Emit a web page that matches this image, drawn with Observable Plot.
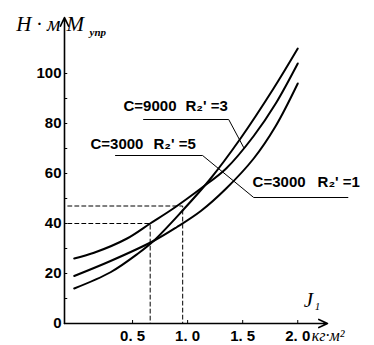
<!DOCTYPE html>
<html>
<head>
<meta charset="utf-8">
<script src="https://cdn.jsdelivr.net/npm/d3@7"></script>
<script src="https://cdn.jsdelivr.net/npm/@observablehq/plot@0.6"></script>
<style>
html,body{margin:0;padding:0;background:#fff;}
</style>
</head>
<body>
<div id="chart"></div>
<script>
// Curve data: J1 (кг·м²) and M_упр (Н·м)
const jR3 = [-0.03, 0.30, 0.55, 0.69, 0.95, 1.20, 1.48, 1.78, 2.00];
const mR3 = [14, 20.5, 28, 33, 45, 57.5, 74, 94, 110];    // C=9000 R2'=3
const jR5 = [-0.03, 0.15, 0.45, 0.66, 0.87, 1.12, 1.35, 1.60, 1.80, 2.00];
const mR5 = [26, 28.3, 34, 40, 46, 54, 62, 75, 88, 104];  // C=3000 R2'=5
const jR1 = [-0.03, 0.30, 0.69, 0.90, 1.12, 1.35, 1.60, 1.80, 2.00];
const mR1 = [19, 25, 33, 38.5, 45, 54, 66, 79, 96];       // C=3000 R2'=1

const yTicks = [0, 20, 40, 60, 80, 100];
const yMinor = [10, 20, 30, 40, 50, 60, 70, 80, 90, 100];
const xTicks = [0.5, 1.0, 1.5, 2.0];
const xTickLabels = ["0.5", "1.0", "1.5", "2.0"];

// dashed reference readings
const refJ = [0.66, 0.955];
const refM = [40, 47];

const X0 = -0.118, X1 = 2.27, YTOP = 122.4;

const rows = (js, ms, name) => js.map((j, i) => ({J: j, M: ms[i], s: name}));
const curves = [
  ...rows(jR3, mR3, "R3"),
  ...rows(jR5, mR5, "R5"),
  ...rows(jR1, mR1, "R1")
];

const dashRows = [];
refJ.forEach((j, i) => {
  dashRows.push({J: X0 + 0.03, M: refM[i], k: i});
  dashRows.push({J: j, M: refM[i], k: i});
  dashRows.push({J: j, M: 0, k: i});
});

const lead1 = [{J: 0.60, M: 81.6}, {J: 1.373, M: 81.6}, {J: 1.509, M: 70.4}];
const lead2 = [{J: 0.345, M: 67.2}, {J: 1.136, M: 67.2}, {J: 1.60, M: 50.4}, {J: 2.455, M: 50.4}];

const lblFont = {fontFamily: "Liberation Sans", fontWeight: "bold", fontSize: 15, fill: "black"};
const serifIt = {fontFamily: "Liberation Serif", fontStyle: "italic", fill: "black"};

const chart = Plot.plot({
  width: 374,
  height: 345,
  marginLeft: 64,
  marginRight: 47,
  marginTop: 17,
  marginBottom: 22,
  x: {domain: [X0, X1], axis: null},
  y: {domain: [0, YTOP], axis: null},
  style: {background: "white", fontFamily: "Liberation Sans", overflow: "visible"},
  marks: [
    // axes with arrows
    Plot.arrow([{a: 1}], {x1: () => X0, y1: () => 0, x2: () => X1, y2: () => 0, stroke: "black", strokeWidth: 1.6, headLength: 9, headAngle: 50}),
    Plot.arrow([{a: 1}], {x1: () => X0, y1: () => 0, x2: () => X0, y2: () => YTOP, stroke: "black", strokeWidth: 1.6, headLength: 9, headAngle: 50}),
    // minor ticks
    Plot.link(yMinor, {x1: () => X0, x2: () => X0 + 0.025, y1: d => d, y2: d => d, stroke: "black", strokeWidth: 1}),
    Plot.link(xTicks, {x1: d => d, x2: d => d, y1: () => 0, y2: () => 1.4, stroke: "black", strokeWidth: 1}),
    // tick labels
    Plot.text(yTicks, {x: () => X0, y: d => d, text: d => String(d), textAnchor: "end", dx: -3, ...lblFont, fontSize: 15}),
    Plot.text(xTicks, {x: d => d, y: () => 0, text: (d, i) => xTickLabels[i].replace(".", ". "), dy: 13, ...lblFont, fontSize: 15}),
    // dashed guides
    Plot.line(dashRows, {x: "J", y: "M", z: "k", stroke: "black", strokeWidth: 1, strokeDasharray: "4,3"}),
    // curves
    Plot.line(curves, {x: "J", y: "M", z: "s", curve: "catmull-rom", stroke: "black", strokeWidth: 2}),
    // leader lines
    Plot.line(lead1, {x: "J", y: "M", stroke: "black", strokeWidth: 1}),
    Plot.line(lead2, {x: "J", y: "M", stroke: "black", strokeWidth: 1}),
    // curve labels
    Plot.text([0], {x: () => 0.418, y: () => 86.8, text: () => "C=9000", textAnchor: "start", ...lblFont}),
    Plot.text([0], {x: () => 0.98, y: () => 86.8, text: () => "R₂' =3", textAnchor: "start", ...lblFont}),
    Plot.text([0], {x: () => 0.118, y: () => 71.6, text: () => "C=3000", textAnchor: "start", ...lblFont}),
    Plot.text([0], {x: () => 0.69, y: () => 71.6, text: () => "R₂' =5", textAnchor: "start", ...lblFont}),
    Plot.text([0], {x: () => 1.59, y: () => 56.4, text: () => "C=3000", textAnchor: "start", ...lblFont}),
    Plot.text([0], {x: () => 2.18, y: () => 56.4, text: () => "R₂' =1", textAnchor: "start", ...lblFont}),
    // axis titles
    Plot.text([0], {x: () => X0, y: () => YTOP, text: () => "H · м", textAnchor: "end", dx: -4, dy: 7, ...serifIt, fontSize: 21}),
    Plot.text([0], {x: () => X0, y: () => YTOP, text: () => "M", textAnchor: "start", dx: 2, dy: 7, ...serifIt, fontSize: 21}),
    Plot.text([0], {x: () => X0, y: () => YTOP, text: () => "упр", textAnchor: "start", dx: 25, dy: 15, ...serifIt, fontSize: 11, fontWeight: "bold"}),
    Plot.text([0], {x: () => 2.055, y: () => 0, text: () => "J", textAnchor: "start", dy: -23, ...serifIt, fontSize: 21}),
    Plot.text([0], {x: () => 2.055, y: () => 0, text: () => "1", textAnchor: "start", dx: 11, dy: -17, ...serifIt, fontSize: 11}),
    Plot.text([0], {x: () => 2.0, y: () => 0, text: () => "кг·м²", textAnchor: "start", dx: 14, dy: 12, ...serifIt, fontSize: 16})
  ]
});
document.getElementById("chart").appendChild(chart);
</script>
</body>
</html>
